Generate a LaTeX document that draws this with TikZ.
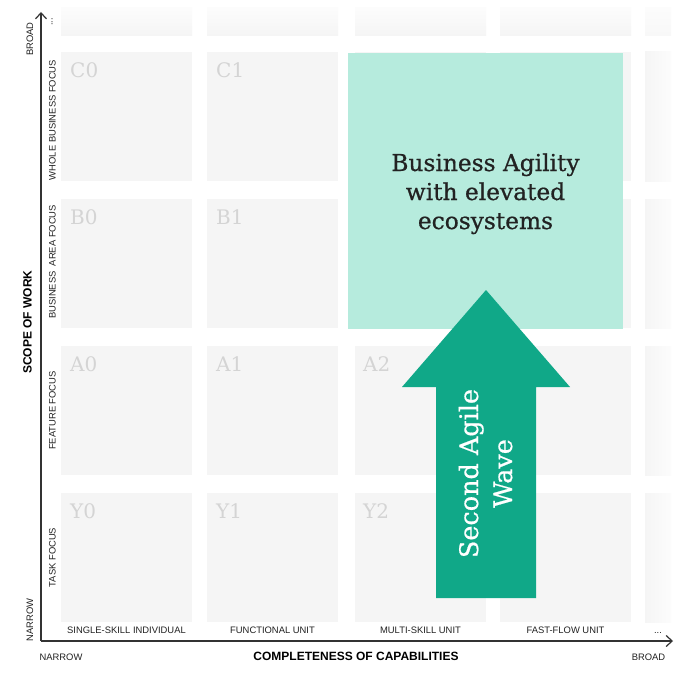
\documentclass[tikz,border=0pt]{standalone}
\usepackage{fontspec}
\setmainfont{DejaVu Serif}
\newfontfamily\slabfont[FakeBold=0.7]{DejaVu Serif}
\newfontfamily\labelfont{Liberation Sans}
\usetikzlibrary{arrows.meta}

\definecolor{cellgray}{HTML}{F5F5F5}
\definecolor{cellfade}{HTML}{FCFCFC}
\definecolor{tealpale}{HTML}{B6EBDD}
\definecolor{tealdeep}{HTML}{10A888}
\definecolor{codegray}{HTML}{D4D4D4}
\definecolor{axisgray}{HTML}{333333}
\definecolor{inkdark}{HTML}{222222}

\begin{document}
\begin{tikzpicture}[x=1pt,y=-1pt,
  code/.style={anchor=base west, text=codegray, inner sep=0pt,
    font=\fontsize{20}{20}\selectfont},
  axislabel/.style={anchor=base, text=inkdark, inner sep=0pt,
    font=\labelfont\fontsize{9.4}{10}\selectfont},
  axistitle/.style={anchor=base, text=black, inner sep=0pt,
    font=\labelfont\bfseries\fontsize{12}{12}\selectfont},
  axisline/.style={draw=axisgray, line width=1.3pt,
    -{Straight Barb[length=6pt,width=11pt,line width=1.2pt]}},
  goal/.style={anchor=base, text=inkdark, inner sep=0pt,
    font=\slabfont\fontsize{23.3}{29}\selectfont},
  wave/.style={anchor=base, text=white, inner sep=0pt, rotate=90,
    font=\slabfont\fontsize{25.5}{34}\selectfont}
]
\useasboundingbox (0,0) rectangle (692,674);
\fill[white] (0,0) rectangle (692,674);

% main grid of capability / scope cells
\foreach \cx in {61,207,355,500}{
  \foreach \cy in {52,199,346,493}{
    \fill[cellgray] (\cx,\cy) rectangle ++(131,129);
  }
  % open-ended top row
  \shade[top color=cellfade, bottom color=cellgray] (\cx,8) rectangle ++(131,28);
}
% open-ended right column
\foreach \cy in {52,199,346,493}{
  \shade[left color=cellgray, right color=cellfade] (645,\cy) rectangle ++(26,129);
}
\shade[top color=cellfade, bottom color=cellgray!60!cellfade] (645,8) rectangle ++(26,28);

% cell codes
\node[code] (C0) at (70,77.5) {C0};
\node[code] (C1) at (216,77.5) {C1};
\node[code] (B0) at (70,224.5) {B0};
\node[code] (B1) at (216,224.5) {B1};
\node[code] (A0) at (70,371.5) {A0};
\node[code] (A1) at (216,371.5) {A1};
\node[code] (A2) at (363,371.5) {A2};
\node[code] (Y0) at (70,518.5) {Y0};
\node[code] (Y1) at (216,518.5) {Y1};
\node[code] (Y2) at (363,518.5) {Y2};

% target region
\fill[tealpale] (348,53) rectangle (623,329);
\node[goal] (goal1) at (485.5,171) {Business Agility};
\node[goal] (goal2) at (485.5,200) {with elevated};
\node[goal] (goal3) at (485.5,229) {ecosystems};

% big upward arrow
\fill[tealdeep] (436,598) -- (436,387) -- (402,387) -- (486,290)
  -- (570,387) -- (536,387) -- (536,598) -- cycle;
\node[wave] (wave1) at (478,473.5) {Second Agile};
\node[wave] (wave2) at (512,473.5) {Wave};

% axes
\coordinate (origin) at (41,641);
\coordinate (ytip) at (41,12);
\coordinate (xtip) at (673,641);
\draw[axisline] (origin) -- (ytip);
\draw[axisline] (origin) -- (xtip);

% vertical axis labels
\node[axislabel, rotate=90] (ybroad) at (33,39) {BROAD};
\node[axislabel, rotate=90] (ynarrow) at (33,620) {NARROW};
\node[axistitle, rotate=90] (ytitle) at (31.5,322) {SCOPE OF WORK};
\node[axislabel, rotate=90] (rtop) at (52.5,22) {...};
\node[axislabel, rotate=90] (rC) at (55.5,120) {WHOLE BUSINESS FOCUS};
\node[axislabel, rotate=90] (rB) at (55.5,262) {BUSINESS\ \ AREA FOCUS};
\node[axislabel, rotate=90] (rA) at (55.5,410.5) {FEATURE FOCUS};
\node[axislabel, rotate=90] (rY) at (55.5,557.5) {TASK FOCUS};

% horizontal axis labels
\node[axislabel] (k0) at (126.5,633.3) {SINGLE-SKILL INDIVIDUAL};
\node[axislabel] (k1) at (272.5,633.3) {FUNCTIONAL UNIT};
\node[axislabel] (k2) at (420.5,633.3) {MULTI-SKILL UNIT};
\node[axislabel] (k3) at (565.5,633.3) {FAST-FLOW UNIT};
\node[axislabel] (k4) at (658,633.3) {...};
\node[axislabel] (xnarrow) at (61,660) {NARROW};
\node[axislabel] (xbroad) at (648.5,660) {BROAD};
\node[axistitle] (xtitle) at (356,660) {COMPLETENESS OF CAPABILITIES};
\end{tikzpicture}
\end{document}
